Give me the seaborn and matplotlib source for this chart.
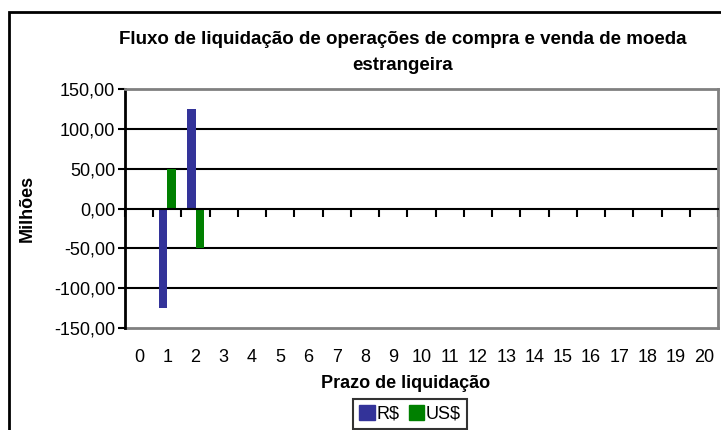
import numpy as np
import pandas as pd
import matplotlib
matplotlib.use("Agg")
import matplotlib.pyplot as plt
import seaborn as sns
from matplotlib.patches import Rectangle

# ---- data ----
prazos = list(range(21))
brl = [0, -125, 125] + [0] * 18
usd = [0, 50, -50] + [0] * 18
series_names = ["R$", "US$"]
series_colors = ["#333399", "#008000"]
yticks = [-150, -100, -50, 0, 50, 100, 150]
ytick_labels = ["-150,00", "-100,00", "-50,00", "0,00", "50,00", "100,00", "150,00"]
title_l1 = "Fluxo de liquidação de operações de compra e venda de moeda"
title_l2 = "estrangeira"
xlabel = "Prazo de liquidação"
ylabel = "Milhões"

df = pd.DataFrame({
    "prazo": [str(p) for p in prazos] * 2,
    "valor": brl + usd,
    "serie": [series_names[0]] * len(prazos) + [series_names[1]] * len(prazos),
})

sns.set_style("white")
plt.rcParams["font.family"] = ["Liberation Sans", "DejaVu Sans"]
plt.rcParams["text.color"] = "black"
plt.rcParams["axes.labelcolor"] = "black"
plt.rcParams["xtick.color"] = "black"
plt.rcParams["ytick.color"] = "black"
plt.rcParams["xtick.labelcolor"] = "black"
plt.rcParams["ytick.labelcolor"] = "black"
FS = 13
FT = 13.5

fig = plt.figure(figsize=(7.21, 4.30), dpi=100)
ax = fig.add_axes([125/721, 1-328/430, (718-125)/721, (328-89)/430])

sns.barplot(data=df, x="prazo", y="valor", hue="serie", order=[str(p) for p in prazos],
            hue_order=series_names, palette=series_colors, width=0.6,
            saturation=1, ax=ax, legend=False, linewidth=0)

ax.set_ylim(-150, 150)
ax.set_xlim(-0.5, 20.5)
ax.set_yticks(yticks)
ax.set_yticklabels(ytick_labels, fontsize=FS, color="black")
ax.tick_params(axis="y", length=5, width=1.5, color="black", labelcolor="black", pad=2, left=True)
for y in [-100, -50, 50, 100]:
    ax.axhline(y, color="black", lw=1.5, zorder=0.5)

# zero axis with category boundary ticks
ax.spines["bottom"].set_position(("data", 0))
ax.spines["bottom"].set_color("black")
ax.spines["bottom"].set_linewidth(1.5)
ax.set_xticks(prazos)
ax.set_xticklabels([])
ax.set_xticks(np.arange(-0.5, 21, 1), minor=True)
ax.tick_params(axis="x", which="major", length=0)
ax.tick_params(axis="x", which="minor", length=6, width=1.5, direction="out", color="black", bottom=True)
ax.set_xlabel("")
ax.set_ylabel("")

for s in ["top", "right"]:
    ax.spines[s].set_visible(True)
    ax.spines[s].set_color("#808080")
    ax.spines[s].set_linewidth(2)
ax.spines["left"].set_color("black")
ax.spines["left"].set_linewidth(2)

sec = ax.secondary_xaxis("bottom")
sec.set_xticks(prazos)
sec.set_xticklabels([str(p) for p in prazos], fontsize=FS, color="black")
sec.tick_params(length=0, pad=15, labelcolor="black")
sec.spines["bottom"].set_color("#808080")
sec.spines["bottom"].set_linewidth(2)

fig.text(403/721, 1-40/430, title_l1, ha="center", va="center", fontsize=FT, fontweight="bold", color="black")
fig.text(403/721, 1-66/430, title_l2, ha="center", va="center", fontsize=FT, fontweight="bold", color="black")
fig.text(406/721, 1-384/430, xlabel, ha="center", va="center", fontsize=FS, fontweight="bold", color="black")
fig.text(27/721, 1-208/430, ylabel, ha="center", va="center", rotation=90, fontsize=FS, fontweight="bold", color="black")

handles = [Rectangle((0, 0), 1, 1, color=c) for c in series_colors]
leg = fig.legend(handles, series_names, loc="upper center", bbox_to_anchor=(410/721, 1-399/430),
                 ncol=2, frameon=True, fontsize=FS, handlelength=0.85, handleheight=0.85,
                 handletextpad=0.1, columnspacing=0.5, borderpad=0.35, fancybox=False,
                 borderaxespad=0, labelcolor="black")
leg.get_frame().set_edgecolor("black")
leg.get_frame().set_linewidth(1.5)

fig.patches.append(Rectangle((9/721, -0.2), 1.0, 1-12/430+0.2, transform=fig.transFigure,
                             fill=False, edgecolor="black", linewidth=2))

fig.savefig("out.png", dpi=100)
